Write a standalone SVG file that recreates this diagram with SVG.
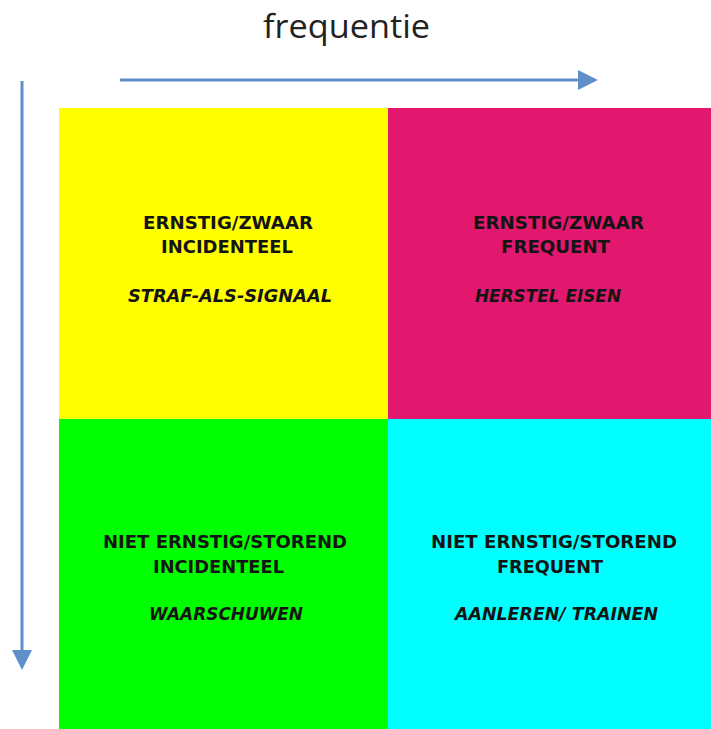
<svg xmlns="http://www.w3.org/2000/svg" width="711" height="729" viewBox="0 0 711 729">
  <style>
    .lbl { font-family: "DejaVu Sans", "Liberation Sans", sans-serif; font-weight: bold; font-size: 17px; fill: #141414; }
    .it { font-style: italic; }
    .title { font-family: "Open Sans", "Liberation Sans", sans-serif; font-size: 32px; fill: #222; }
    .axis { stroke: #5E8FC9; stroke-width: 3; fill: none; marker-end: url(#head); }
  </style>
  <defs>
    <marker id="head" markerUnits="userSpaceOnUse" markerWidth="20" markerHeight="20" refX="0" refY="10" orient="auto" viewBox="0 0 20 20">
      <path d="M0,0 L20,10 L0,20 z" fill="#5E8FC9"/>
    </marker>
  </defs>
  <rect width="711" height="729" fill="#ffffff"/>
  <text class="title" x="263" y="38" textLength="167" lengthAdjust="spacingAndGlyphs">frequentie</text>

  <g id="q-ernstig-incidenteel">
    <rect x="59" y="108" width="329" height="311" fill="#FFFF00"/>
    <text class="lbl" x="143" y="229" textLength="170" lengthAdjust="spacingAndGlyphs">ERNSTIG/ZWAAR</text>
    <text class="lbl" x="161" y="253" textLength="132" lengthAdjust="spacingAndGlyphs">INCIDENTEEL</text>
    <text class="lbl it" x="128" y="302" textLength="204" lengthAdjust="spacingAndGlyphs">STRAF-ALS-SIGNAAL</text>
  </g>
  <g id="q-ernstig-frequent">
    <rect x="388" y="108" width="323" height="311" fill="#E2186E"/>
    <text class="lbl" x="473" y="229" textLength="171" lengthAdjust="spacingAndGlyphs">ERNSTIG/ZWAAR</text>
    <text class="lbl" x="501" y="253" textLength="109" lengthAdjust="spacingAndGlyphs">FREQUENT</text>
    <text class="lbl it" x="475" y="302" textLength="146" lengthAdjust="spacingAndGlyphs">HERSTEL EISEN</text>
  </g>
  <g id="q-nieternstig-incidenteel">
    <rect x="59" y="419" width="329" height="310" fill="#00FF00"/>
    <text class="lbl" x="103" y="548" textLength="244" lengthAdjust="spacingAndGlyphs">NIET ERNSTIG/STOREND</text>
    <text class="lbl" x="153" y="573" textLength="131" lengthAdjust="spacingAndGlyphs">INCIDENTEEL</text>
    <text class="lbl it" x="149" y="620" textLength="154" lengthAdjust="spacingAndGlyphs">WAARSCHUWEN</text>
  </g>
  <g id="q-nieternstig-frequent">
    <rect x="388" y="419" width="323" height="310" fill="#00FFFF"/>
    <text class="lbl" x="431" y="548" textLength="246" lengthAdjust="spacingAndGlyphs">NIET ERNSTIG/STOREND</text>
    <text class="lbl" x="497" y="573" textLength="106" lengthAdjust="spacingAndGlyphs">FREQUENT</text>
    <text class="lbl it" x="455" y="620" textLength="203" lengthAdjust="spacingAndGlyphs">AANLEREN/ TRAINEN</text>
  </g>

  <g id="connectors">
    <line class="axis" x1="120" y1="80" x2="578" y2="80"/>
    <line class="axis" x1="22" y1="81" x2="22" y2="650"/>
  </g>
</svg>
